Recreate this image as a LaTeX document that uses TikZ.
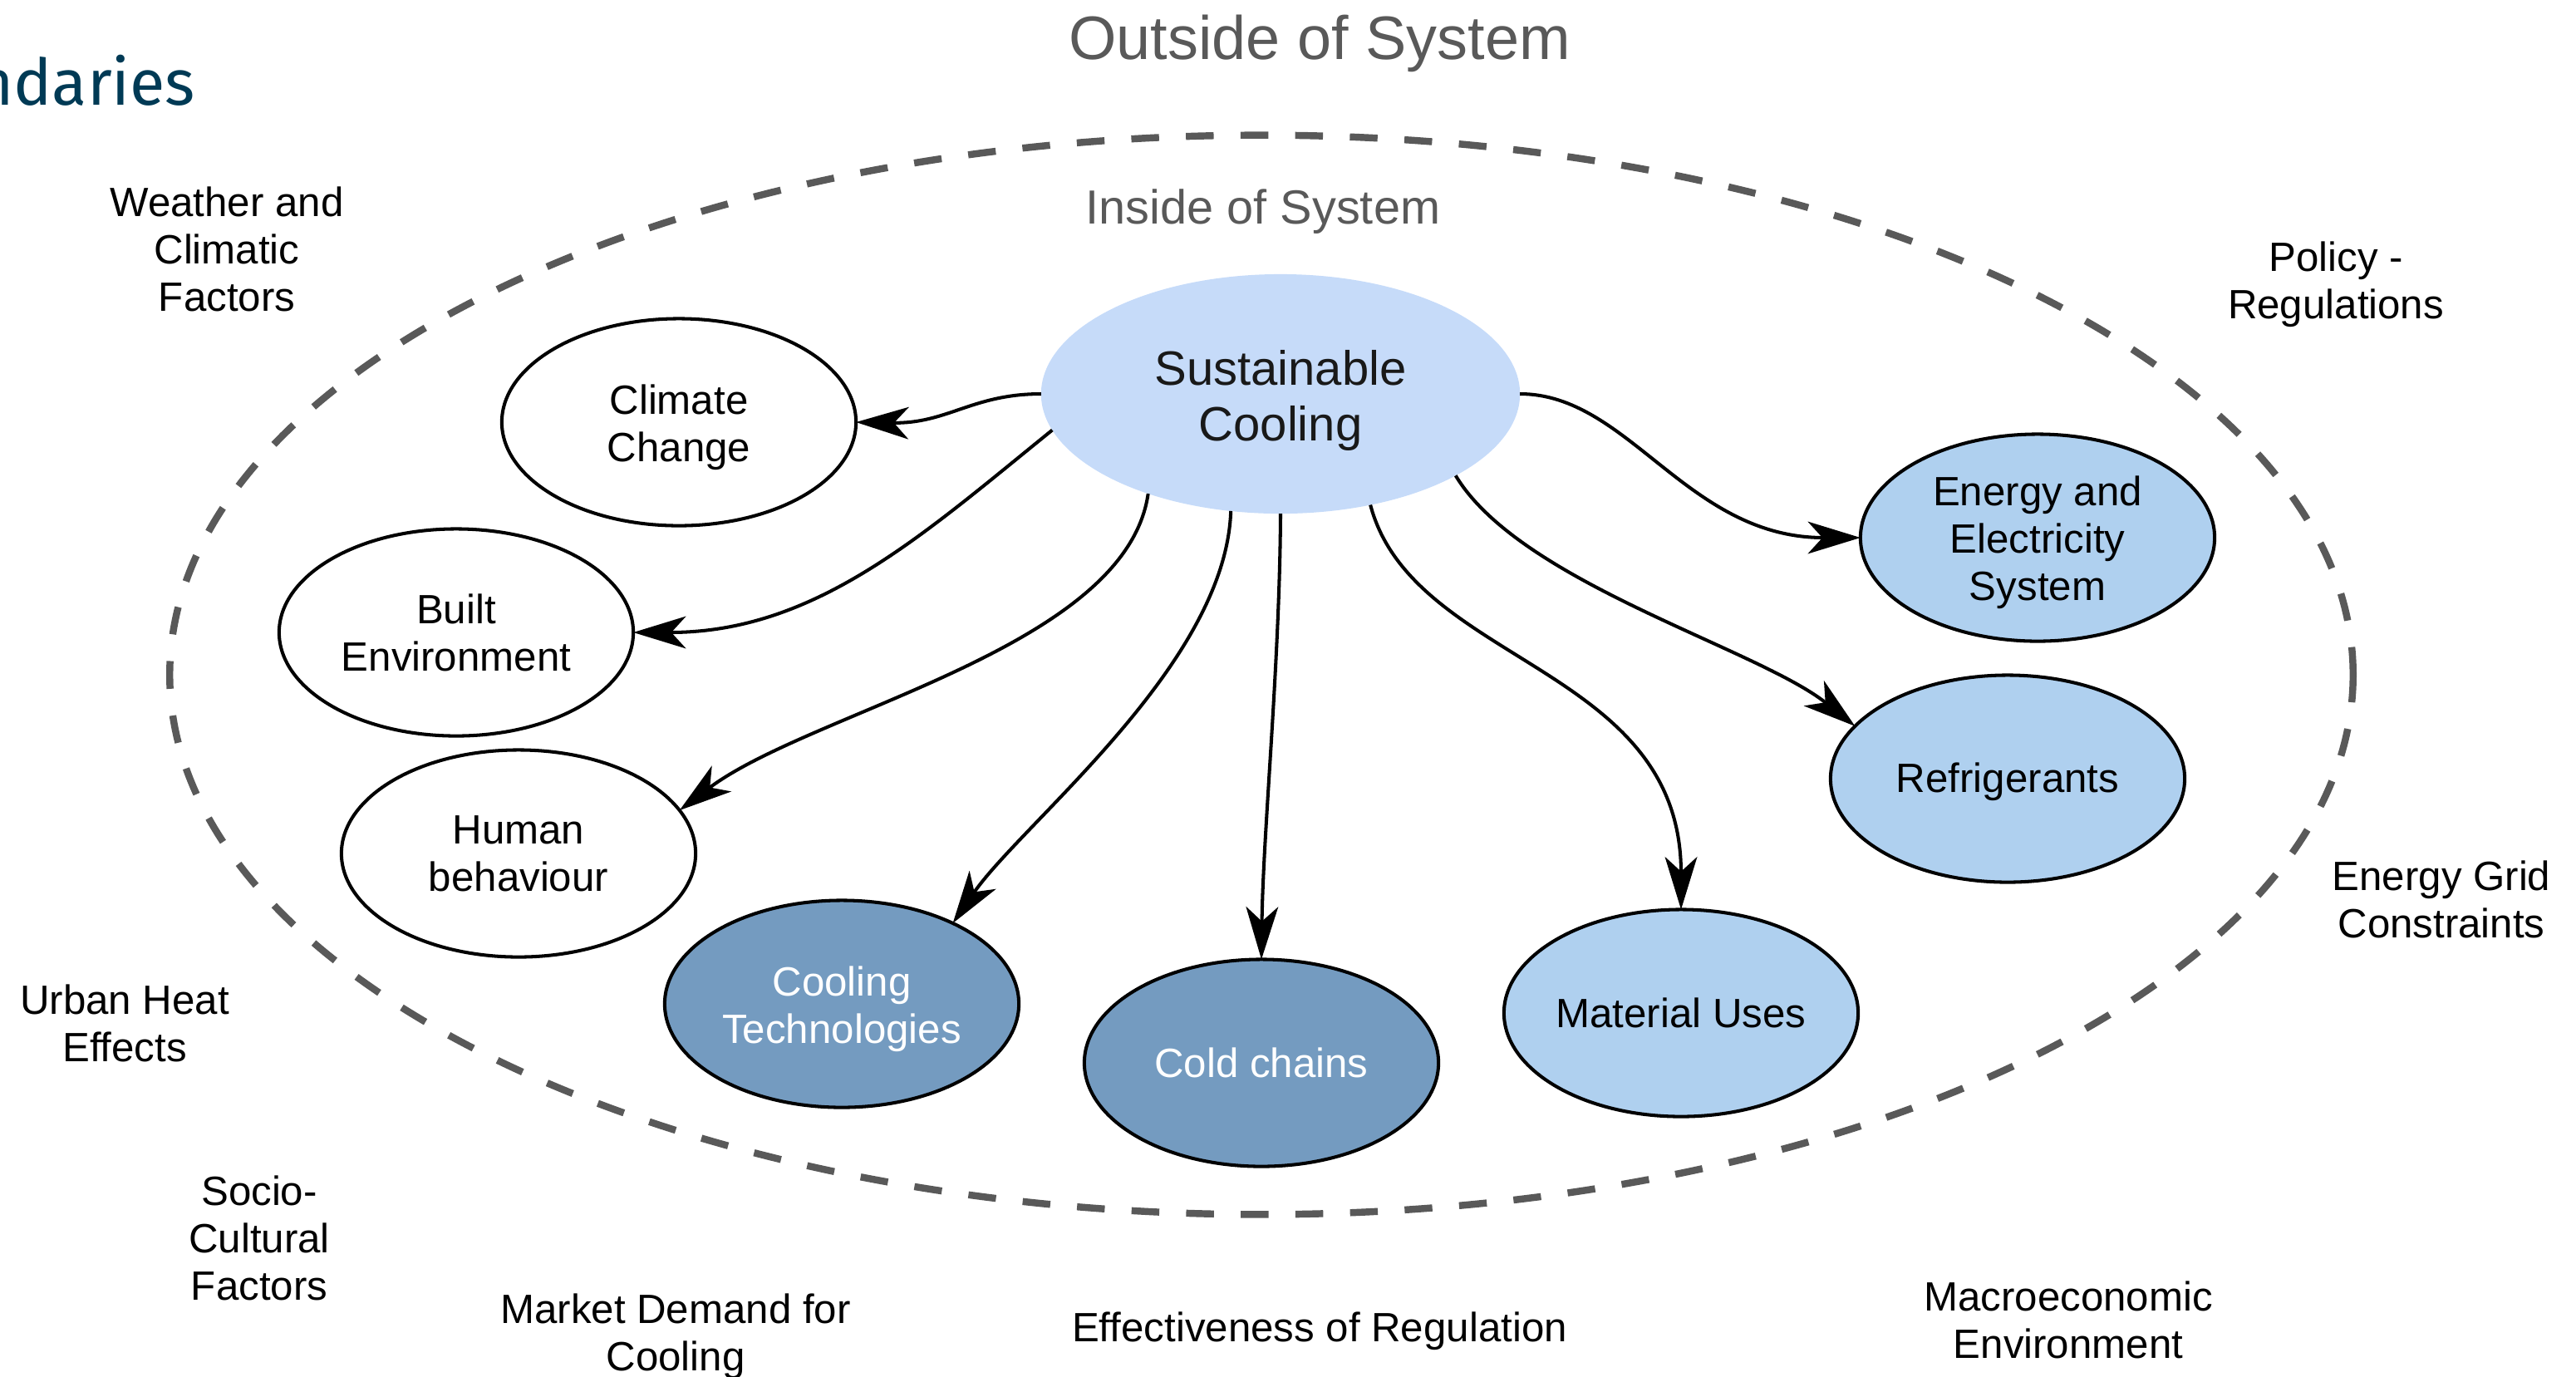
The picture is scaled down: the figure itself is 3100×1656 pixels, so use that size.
\documentclass[tikz,border=0pt]{standalone}
\usepackage{fontspec}
\setmainfont{Liberation Sans}
\newfontfamily\firafont{Fira Sans}
\usetikzlibrary{shapes.geometric,arrows.meta}
\definecolor{scfill}{RGB}{198,219,249}
\definecolor{lightnode}{RGB}{175,208,239}
\definecolor{darknode}{RGB}{116,155,192}
\definecolor{boundgray}{RGB}{89,89,89}
\definecolor{headnavy}{RGB}{0,58,85}
\definecolor{inktext}{RGB}{25,25,25}
% strut giving the first line of a label some extra headroom
\newcommand{\headroom}{\rule{0pt}{13.5pt}}

\begin{document}
\begin{tikzpicture}[x=0.01cm,y=-0.01cm,
  every node/.style={inner sep=0pt,outer sep=0pt},
  body/.style={font=\fontsize{14}{16.2}\selectfont, align=center, text=black},
  bubble/.style={ellipse, draw=black, line width=1.15pt, body,
                 minimum width=4.26cm, minimum height=2.49cm},
  plainbubble/.style={bubble, fill=white},
  lightbubble/.style={bubble, fill=lightnode},
  darkbubble/.style={bubble, fill=darknode, text=white},
  factor/.style={body},
  link/.style={line width=1.15pt, -{Stealth[length=18pt,width=11pt,inset=5pt]}},
]
\useasboundingbox (0,0) rectangle (3100,1656);

% heading fragment and the two region captions
\node[anchor=base east, font=\firafont\fontsize{22}{26}\selectfont, text=headnavy] (head) at (235,126) {ndaries};
\node[anchor=base, font=\fontsize{21}{25}\selectfont, text=boundgray] (outside) at (1588,71) {Outside of System};
\node[anchor=base, font=\fontsize{16.4}{19}\selectfont, text=boundgray] (inside) at (1520,269) {Inside of System};

% system boundary
\draw[boundgray, line width=2.4pt, dash pattern=on 9.5pt off 9.2pt]
  (1518,812) ellipse [x radius=13.13cm, y radius=6.49cm];

% central topic
\node[ellipse, fill=scfill, minimum width=5.76cm, minimum height=2.88cm,
      font=\fontsize{16.5}{19}\selectfont, text=inktext, align=center]
  (sc) at (1541,474) {\rule{0pt}{16.5pt}Sustainable\\Cooling};

% elements inside the system
\node[plainbubble] (cc) at (817,508) {\headroom Climate\\Change};
\node[plainbubble] (be) at (549,761) {Built\\Environment};
\node[plainbubble] (hb) at (624,1027) {Human\\behaviour};
\node[darkbubble]  (ct) at (1013,1208) {\headroom Cooling\\Technologies};
\node[darkbubble]  (ch) at (1518,1279) {Cold chains};
\node[lightbubble] (mu) at (2023,1219) {Material Uses};
\node[lightbubble] (rf) at (2416,937) {\rule{0pt}{12pt}Refrigerants};
\node[lightbubble] (en) at (2452,647) {\headroom Energy and\\Electricity\\System};

% factors outside the system
\node[factor] (wx)   at (273,300)   {Weather and\\Climatic\\Factors};
\node[factor] (pol)  at (2811,342)  {Policy -\\Regulations};
\node[factor] (grid) at (2938,1082) {Energy Grid\\Constraints};
\node[factor] (uhe)  at (150,1231)  {Urban Heat\\Effects};
\node[factor] (soc)  at (312,1490)  {Socio-\\Cultural\\Factors};
\node[factor] (mkt)  at (813,1608)  {Market Demand for\\Cooling};
\node[factor] (eff)  at (1588,1602) {Effectiveness of Regulation};
\node[factor] (mac)  at (2489,1588) {Macroeconomic\\Environment};

% links from the central topic
\draw[link] (sc.west) .. controls (1170,474) and (1140,510) .. (cc.east);
\draw[link] (sc.189) .. controls (1111,643) and (982,761) .. (be.east);
\draw[link] (sc.217) .. controls (1355,780) and (977,855) .. (hb.15);
\draw[link] (sc.247) .. controls (1475,800) and (1230,990) .. (ct.36);
\draw[link] (sc.south) .. controls (1540,800) and (1520,1000) .. (ch.north);
\draw[link] (sc.309) .. controls (1700,800) and (2023,800) .. (mu.north);
\draw[link] (sc.335) .. controls (1829,701) and (2115,780) .. (rf.161);
\draw[link] (sc.east) .. controls (1960,474) and (2030,647) .. (en.west);
\end{tikzpicture}
\end{document}
